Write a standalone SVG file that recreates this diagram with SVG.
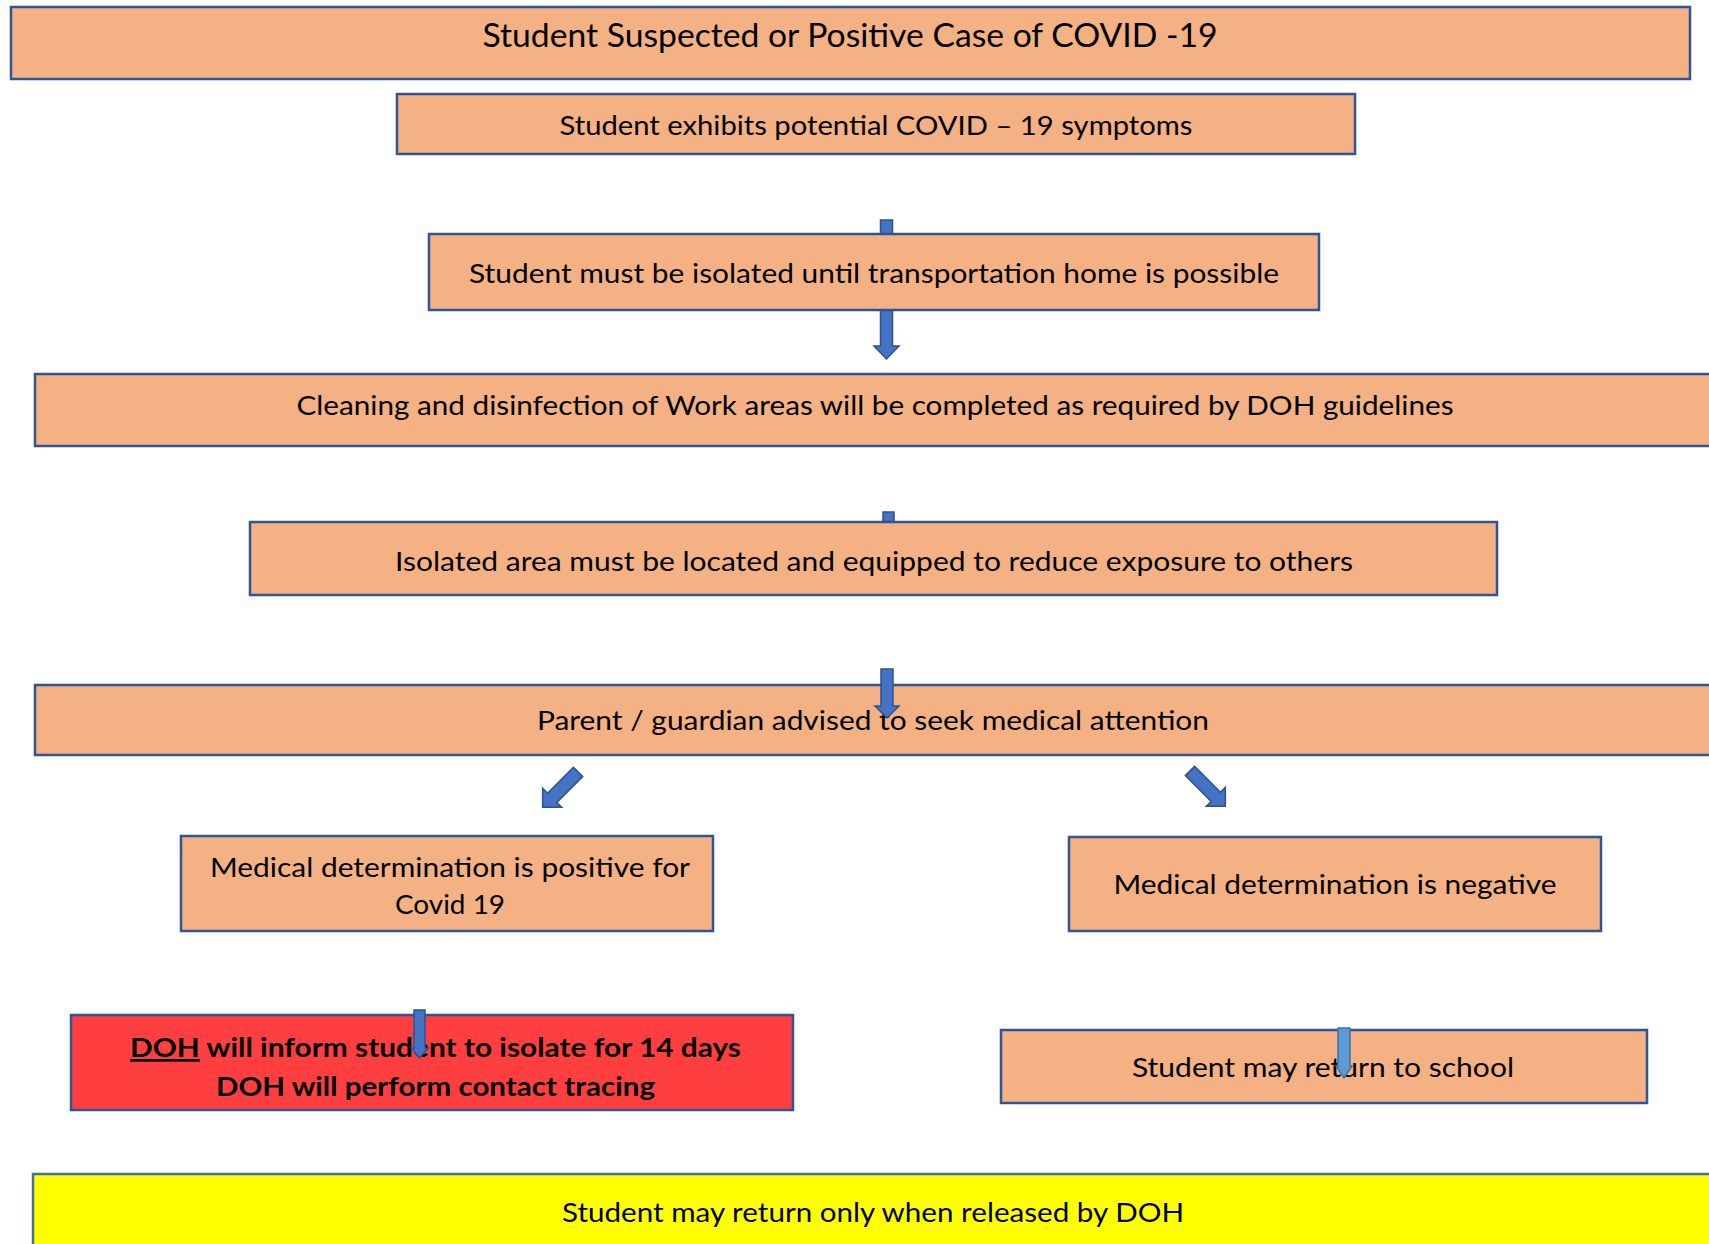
<svg xmlns="http://www.w3.org/2000/svg" width="1709" height="1244" viewBox="0 0 1709 1244">
<style>
.box{fill:#F4B183;stroke:#2F5597;stroke-width:2.5}
.red{fill:#FF3F3F;stroke:#2F5597;stroke-width:2.5}
.yel{fill:#FFFF00;stroke:#41719C;stroke-width:2.5}
.t{font-family:"Lato","Liberation Sans",sans-serif;font-size:26.5px;fill:#000;text-anchor:middle}
.tt{font-size:32px}
.b{font-weight:bold}
.arr{fill:#4472C4;stroke:#2F528F;stroke-width:1.5}
.arrl{fill:#5B9BD5;stroke:#41719C;stroke-width:1.5}
</style>
<rect width="1709" height="1244" fill="#fff"/>
<g id="connectors-back">
<path class="arr" d="M880.5,220 H892.5 V346 H899 L886.5,359 L874,346 H880.5 Z"/>
<path class="arr" d="M883,512 H894 V560 H883 Z"/>
</g>
<g id="n1"><rect class="box" x="11" y="7" width="1679" height="72"/>
<text class="t tt" x="850" y="47" textLength="735" lengthAdjust="spacingAndGlyphs">Student Suspected or Positive Case of COVID -19</text></g>
<g id="n2"><rect class="box" x="397" y="94" width="958" height="60"/>
<text class="t" x="876" y="135" textLength="633" lengthAdjust="spacingAndGlyphs">Student exhibits potential COVID – 19 symptoms</text></g>
<g id="n3"><rect class="box" x="429" y="234" width="890" height="76"/>
<text class="t" x="874" y="283" textLength="810" lengthAdjust="spacingAndGlyphs">Student must be isolated until transportation home is possible</text></g>
<g id="n4"><rect class="box" x="35" y="374" width="1690" height="72"/>
<text class="t" x="875" y="415" textLength="1157" lengthAdjust="spacingAndGlyphs">Cleaning and disinfection of Work areas will be completed as required by DOH guidelines</text></g>
<g id="n5"><rect class="box" x="250" y="522" width="1247" height="73"/>
<text class="t" x="874" y="571" textLength="958" lengthAdjust="spacingAndGlyphs">Isolated area must be located and equipped to reduce exposure to others</text></g>
<g id="n6"><rect class="box" x="35" y="685" width="1690" height="70"/>
<text class="t" x="873" y="730" textLength="672" lengthAdjust="spacingAndGlyphs">Parent / guardian advised to seek medical attention</text></g>
<g id="n7"><rect class="box" x="181" y="836" width="532" height="95"/>
<text class="t" x="450" y="877" textLength="480" lengthAdjust="spacingAndGlyphs">Medical determination is positive for</text>
<text class="t" x="450" y="914" textLength="110" lengthAdjust="spacingAndGlyphs">Covid 19</text></g>
<g id="n8"><rect class="box" x="1069" y="837" width="532" height="94"/>
<text class="t" x="1335" y="894" textLength="443" lengthAdjust="spacingAndGlyphs">Medical determination is negative</text></g>
<g id="n9"><rect class="red" x="71" y="1015" width="722" height="95"/>
<text class="t b" x="435.5" y="1057" textLength="611" lengthAdjust="spacingAndGlyphs"><tspan text-decoration="underline">DOH</tspan> will inform student to isolate for 14 days</text>
<text class="t b" x="435.5" y="1096" textLength="439" lengthAdjust="spacingAndGlyphs">DOH will perform contact tracing</text></g>
<g id="n10"><rect class="box" x="1001" y="1030" width="646" height="73"/>
<text class="t" x="1323" y="1077" textLength="382" lengthAdjust="spacingAndGlyphs">Student may return to school</text></g>
<g id="n11"><rect class="yel" x="33" y="1174" width="1690" height="100"/>
<text class="t" x="873" y="1222" textLength="622" lengthAdjust="spacingAndGlyphs">Student may return only when released by DOH</text></g>
<g id="connectors-front">
<path class="arr" d="M881,669 H893 V706 H899 L887,718 L875,706 H881 Z"/>
<path class="arr" transform="translate(578,772) rotate(135)" d="M0,-6.5 L36.5,-6.5 L36.5,-13.5 L50,0 L36.5,13.5 L36.5,6.5 L0,6.5 Z"/>
<path class="arr" transform="translate(1190,771) rotate(45)" d="M0,-6.5 L36.5,-6.5 L36.5,-13.5 L50,0 L36.5,13.5 L36.5,6.5 L0,6.5 Z"/>
<path class="arr" d="M414,1010 H425 V1048 H428 L419.5,1058 L411,1048 H414 Z"/>
<path class="arrl" d="M1338,1028 H1350 V1066 H1352 L1344,1078 L1336,1066 H1338 Z"/>
</g>
</svg>
